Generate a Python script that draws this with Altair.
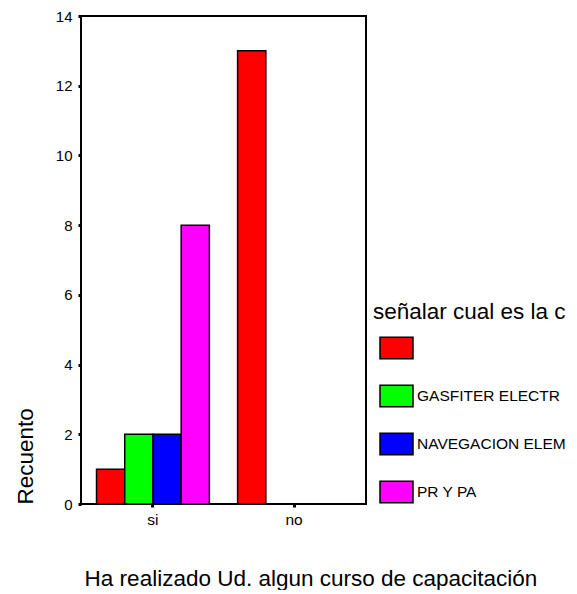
import altair as alt
import pandas as pd

# data
groups = ["si", "si", "si", "si", "no"]
courses = [" ", "GASFITER ELECTR", "NAVEGACION ELEM", "PR Y PA", " "]
counts = [1, 2, 2, 8, 13]

course_order = [" ", "GASFITER ELECTR", "NAVEGACION ELEM", "PR Y PA"]
course_colors = ["#FF0000", "#00FF00", "#0000FF", "#FF00FF"]
group_order = ["si", "no"]
y_ticks = [0, 2, 4, 6, 8, 10, 12, 14]

df = pd.DataFrame({"grupo": groups, "curso": courses, "n": counts})

FONT = "Liberation Sans"

chart = alt.Chart(df).mark_bar(
    stroke="black", strokeWidth=1.5, opacity=1
).encode(
    x=alt.X(
        "grupo:N",
        sort=group_order,
        scale=alt.Scale(paddingInner=0.2, paddingOuter=0.11),
        axis=alt.Axis(
            title="Ha realizado Ud. algun curso de capacitación",
            titleFont=FONT, titleFontSize=22.5, titleFontWeight="normal",
            titleColor="black",
            titleX=229.5, titleY=81, titleAlign="center",
            titleBaseline="alphabetic",
            labelFont=FONT, labelFontSize=15.5, labelColor="black",
            labelAngle=0, labelPadding=5,
            tickSize=3, tickWidth=3, tickColor="black",
            domain=False,
        ),
    ),
    xOffset=alt.XOffset("curso:N", sort=course_order),
    y=alt.Y(
        "n:Q",
        scale=alt.Scale(domain=[0, 14], nice=False),
        axis=alt.Axis(
            title="Recuento",
            values=y_ticks,
            grid=False,
            titleFont=FONT, titleFontSize=22.5, titleFontWeight="normal",
            titleColor="black",
            titleAnchor="start", titleAngle=-90,
            titleX=-49, titleBaseline="alphabetic", titleAlign="left",
            labelFont=FONT, labelFontSize=15, labelColor="black",
            labelPadding=6,
            tickSize=3, tickWidth=3, tickColor="black",
            domain=False,
        ),
    ),
    color=alt.Color(
        "curso:N",
        sort=course_order,
        scale=alt.Scale(domain=course_order, range=course_colors),
        legend=alt.Legend(
            title="señalar cual es la c",
            orient="none",
            legendX=292,
            legendY=285,
            padding=0,
            titleFont=FONT, titleFontSize=22.5, titleFontWeight="normal",
            titleColor="black", titlePadding=7, titleLimit=400,
            labelFont=FONT, labelFontSize=15.5, labelColor="black",
            labelOffset=3, labelLimit=400,
            symbolType="M-1,-0.65H1V0.65H-1Z",
            symbolSize=1089,
            symbolStrokeColor="black",
            symbolStrokeWidth=1.5,
            symbolOpacity=1,
            symbolOffset=6,
            rowPadding=16,
        ),
    ),
).properties(
    width=285,
    height=488,
    background="white",
    autosize=alt.AutoSizeParams(type="none"),
    padding={"left": 73, "top": 8, "right": 203, "bottom": 86},
).configure_view(
    stroke="black", strokeWidth=2
)

chart.save("out.html", embed_options={"renderer": "svg", "actions": False})
